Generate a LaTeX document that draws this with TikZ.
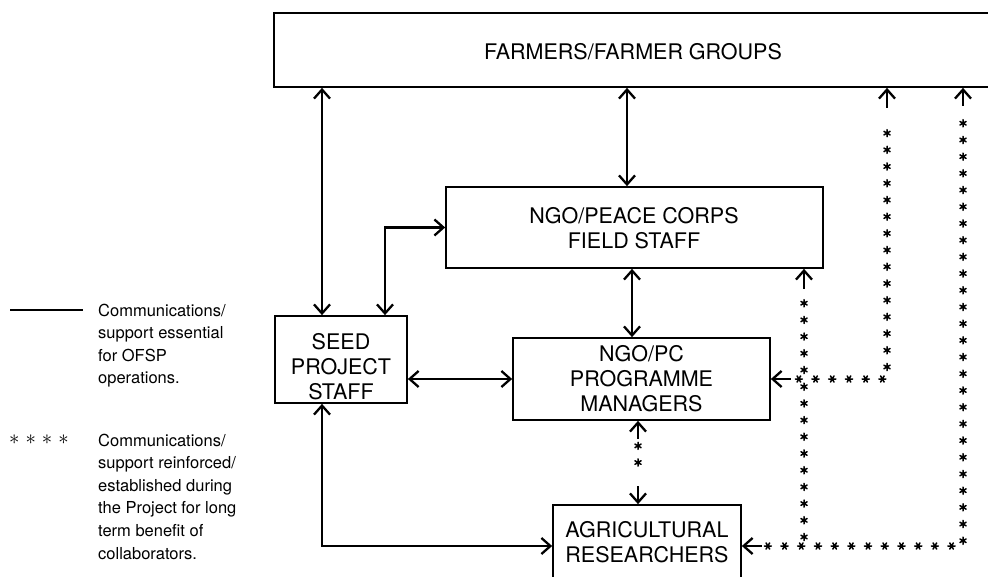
\documentclass[tikz,border=0pt]{standalone}
\usepackage{fontspec}
\setmainfont{TeX Gyre Heros}
\usetikzlibrary{arrows.meta,decorations.markings,calc}
\newcommand\astmark{\draw[line width=1.5pt,line cap=round] (-3.6,0)--(3.6,0) (-1.8,3.1)--(1.8,-3.1) (-1.8,-3.1)--(1.8,3.1);}
\begin{document}
\begin{tikzpicture}[x=1pt,y=-1pt,
  box/.style={draw,line width=1.7pt,inner sep=0pt},
  btxt/.style={font=\fontsize{21.5}{25}\selectfont,align=center,inner sep=0pt},
  ltxt/.style={font=\fontsize{16.5}{22.6}\selectfont,align=left,inner sep=0pt,anchor=north west},
  arr/.style={line width=2.3pt,{Straight Barb[length=9pt,width=16pt]}-{Straight Barb[length=9pt,width=16pt]}},
  arrone/.style={line width=2.3pt,-{Straight Barb[length=9pt,width=16pt]}},
  stars/.style={decorate,decoration={markings,mark=between positions 0 and 1 step 16.7pt with {\astmark}}}]
\useasboundingbox (0,0) rectangle (988,577);
\clip (0,0) rectangle (988,577);

% boxes
\node[box,minimum width=718pt,minimum height=74pt] (farm) at (633,50) {};
\node[btxt] (farmt) at (633,52) {FARMERS/FARMER GROUPS};
\node[box,minimum width=377pt,minimum height=81pt] (fs) at (634.5,227.5) {};
\node[btxt] (fst) at (634,228) {NGO/PEACE CORPS\\FIELD STAFF};
\node[box,minimum width=132pt,minimum height=87pt] (seed) at (341,359.5) {};
\node[btxt] (seedt) at (341,367) {SEED\\PROJECT\\STAFF};
\node[box,minimum width=257pt,minimum height=82pt] (pm) at (641.5,379) {};
\node[btxt] (pmt) at (641.5,379) {NGO/PC\\PROGRAMME\\MANAGERS};
\node[box,minimum width=188pt,minimum height=75pt] (agr) at (647,542.5) {};
\node[btxt] (agrt) at (647,542) {AGRICULTURAL\\RESEARCHERS};

% helper coordinates
\coordinate (xa) at (322,0);
\coordinate (xb) at (385,0);
\coordinate (xc) at (627,0);
\coordinate (xd) at (632,0);
\coordinate (xe) at (638,0);
\coordinate (xf) at (804,0);
\coordinate (xg) at (887,0);
\coordinate (xh) at (963,0);
\coordinate (yb) at (0,546);

% solid connectors
\draw[arr] (farm.south -| xa) -- (seed.north -| xa);
\draw[arr] (farm.south -| xc) -- (fs.north -| xc);
\draw[arr] (seed.north -| xb) -- (xb |- fs.west) -- (fs.west);
\draw[arr] (fs.south -| xd) -- (pm.north -| xd);
\draw[arr] (seed.east |- pm.west) -- (pm.west);
\draw[arr] (seed.south -| xa) -- (xa |- yb) -- (agr.west |- yb);

% starred connectors
% PM <-> Agric
\draw[arrone] ($(pm.south -| xe)+(0,18)$) -- (pm.south -| xe);
\draw[arrone] ($(agr.north -| xe)+(0,-18)$) -- (agr.north -| xe);
\path[stars] ($(pm.south -| xe)+(0,25)$) -- ($(agr.north -| xe)+(0,-26)$);
% Farmers <-> PM
\draw[arrone] ($(farm.south -| xg)+(0,20)$) -- (farm.south -| xg);
\draw[arrone] ($(pm.east)+(20,0)$) -- (pm.east);
\path[stars] ($(pm.east)+(28,0)$) -- (xg |- pm.east) -- ($(farm.south -| xg)+(0,32)$);
% Farmers <-> Agric
\draw[arrone] ($(farm.south -| xh)+(0,18)$) -- (farm.south -| xh);
\draw[arrone] ($(agr.east |- yb)+(20,0)$) -- (agr.east |- yb);
\path[stars] ($(agr.east |- yb)+(26,0)$) -- (xh |- yb) -- ($(farm.south -| xh)+(0,24)$);
% Field staff <- line
\draw[arrone] ($(fs.south -| xf)+(0,20)$) -- (fs.south -| xf);
\path[stars] ($(xf |- yb)+(0,-9)$) -- ($(fs.south -| xf)+(0,30)$);

% legend
\coordinate (lga) at (10,310);
\coordinate (lgb) at (83,310);
\draw[line width=1.7pt] (lga) -- (lgb);
\node[ltxt] (leg1) at (98,303.5) {Communications/\\support essential\\for OFSP\\operations.};
\node[inner sep=0pt,anchor=west,font=\fontsize{22}{24}\selectfont] (legs) at (9,440) {$\ast$\hspace{6pt}$\ast$\hspace{6pt}$\ast$\hspace{6pt}$\ast$};
\node[ltxt] (leg2) at (98,433.5) {Communications/\\support reinforced/\\established during\\the Project for long\\term benefit of\\collaborators.};
\end{tikzpicture}
\end{document}
